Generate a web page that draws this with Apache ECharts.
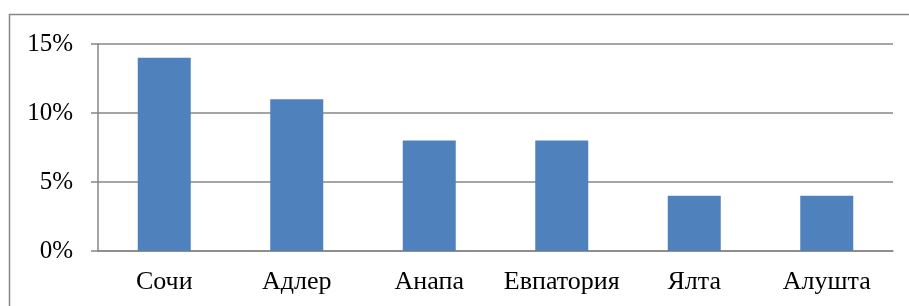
<!DOCTYPE html>
<html>
<head>
<meta charset="utf-8">
<script src="https://cdn.jsdelivr.net/npm/echarts@6/dist/echarts.min.js"></script>
<style>
html, body { margin: 0; padding: 0; background: #fff; }
#chart { width: 909px; height: 306px; }
</style>
</head>
<body>
<div id="chart"></div>
<script>
// курорты и доли, %
const cities = ['Сочи', 'Адлер', 'Анапа', 'Евпатория', 'Ялта', 'Алушта'];
const shares = [14, 11, 8, 8, 4, 4];
const yTicks = [0, 5, 10, 15];

const chart = echarts.init(document.getElementById('chart'));
const font = '"Liberation Serif", "Times New Roman", serif';

chart.setOption({
	animation: false,
	graphic: [
		{
			type: 'rect',
			shape: { x: 9.5, y: 14.5, width: 920, height: 320 },
			style: { fill: 'none', stroke: '#878787', lineWidth: 1.5 },
			silent: true
		}
	],
	grid: {
		left: 98,
		right: 16,
		top: 44,
		bottom: 55
	},
	xAxis: {
		type: 'category',
		data: cities,
		axisLine: { lineStyle: { color: '#878787', width: 1.5 } },
		axisTick: { length: 7, lineStyle: { color: '#878787', width: 1.5 } },
		axisLabel: {
			interval: 0,
			hideOverlap: false,
			color: '#000',
			fontFamily: font,
			fontSize: 26,
			margin: 18
		}
	},
	yAxis: {
		type: 'value',
		min: yTicks[0],
		max: yTicks[yTicks.length - 1],
		interval: 5,
		axisLine: { show: true, lineStyle: { color: '#878787', width: 1.5 } },
		axisTick: { show: true, length: 7, lineStyle: { color: '#878787', width: 1.5 } },
		splitLine: { lineStyle: { color: '#878787', width: 1.5 } },
		axisLabel: {
			color: '#000',
			fontFamily: font,
			fontSize: 25,
			margin: 25,
			formatter: (v) => v + '%'
		}
	},
	series: [
		{
			type: 'bar',
			data: shares,
			barWidth: '40%',
			itemStyle: { color: '#4F81BD' }
		}
	]
});
</script>
</body>
</html>
